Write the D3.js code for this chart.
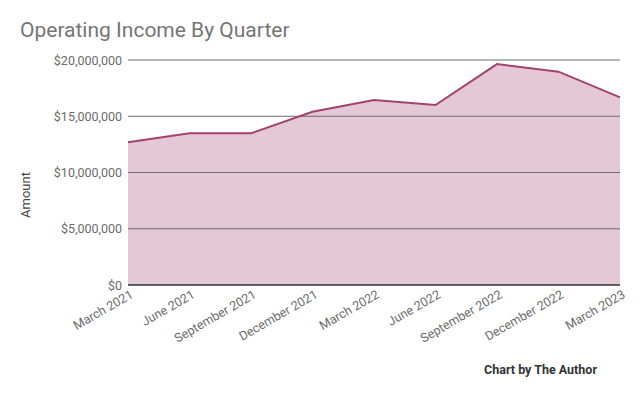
<!DOCTYPE html>
<meta charset="utf-8" />
<style>
  body { margin: 0; background: #fff; }
  text { font-family: Roboto, "Noto Sans", sans-serif; }
</style>
<body>
  <div id="chart"></div>
  <script src="https://cdn.jsdelivr.net/npm/d3@7"></script>
  <script>
    // values
    const quarters = ["March 2021", "June 2021", "September 2021", "December 2021", "March 2022",
      "June 2022", "September 2022", "December 2022", "March 2023"];
    const income = [12680000, 13480000, 13480000, 15400000, 16440000, 16000000, 19640000, 18960000, 16680000];
    const yTicks = [0, 5000000, 10000000, 15000000, 20000000];

    const width = 640, height = 396;
    const plotLeft = 128, plotRight = 620, plotTop = 60, plotBottom = 285;

    const svg = d3.select("#chart").append("svg").attr("width", width).attr("height", height);

    const x = d3.scalePoint().domain(quarters).range([plotLeft, plotRight]);
    const y = d3.scaleLinear().domain([0, 20000000]).range([plotBottom, plotTop]);

    // area + line
    const area = d3.area().x((d, i) => x(quarters[i])).y0(y(0)).y1((d) => y(d));
    const line = d3.line().x((d, i) => x(quarters[i])).y((d) => y(d));

    svg.append("path").datum(income).attr("d", area).attr("fill", "#e4c8d6");

    // gridlines over the fill
    svg.append("g")
      .selectAll("line")
      .data(yTicks.filter((t) => t > 0))
      .enter()
      .append("line")
      .attr("x1", plotLeft)
      .attr("x2", plotRight)
      .attr("y1", (d) => y(d))
      .attr("y2", (d) => y(d))
      .attr("stroke", "#6b6b6b")
      .attr("stroke-width", 1);

    svg.append("line")
      .attr("x1", plotLeft).attr("x2", plotRight)
      .attr("y1", y(0)).attr("y2", y(0))
      .attr("stroke", "#333").attr("stroke-width", 1.5);

    svg.append("path").datum(income).attr("d", line)
      .attr("fill", "none").attr("stroke", "#a3426f").attr("stroke-width", 2);

    // y labels
    svg.append("g")
      .selectAll("text")
      .data(yTicks)
      .enter()
      .append("text")
      .attr("x", plotLeft - 6)
      .attr("y", (d) => y(d) + 4.5)
      .attr("text-anchor", "end")
      .attr("fill", "#6b6b6b")
      .attr("font-size", "12.5px")
      .text((d) => "$" + d3.format(",")(d));

    // x labels
    svg.append("g")
      .selectAll("text")
      .data(quarters)
      .enter()
      .append("text")
      .attr("transform", (d) => "translate(" + (x(d) + 6) + "," + (plotBottom + 12) + ") rotate(-30)")
      .attr("text-anchor", "end")
      .attr("fill", "#6b6b6b")
      .attr("font-size", "12.5px")
      .text((d) => d);

    svg.append("text")
      .attr("x", 20).attr("y", 37)
      .attr("fill", "#757575")
      .attr("font-size", "21px")
      .text("Operating Income By Quarter");

    svg.append("text")
      .attr("transform", "translate(30,195) rotate(-90)")
      .attr("text-anchor", "middle")
      .attr("fill", "#444")
      .attr("font-size", "13px")
      .text("Amount");

    svg.append("text")
      .attr("x", 597).attr("y", 374)
      .attr("text-anchor", "end")
      .attr("fill", "#333")
      .attr("font-size", "12.5px")
      .attr("font-weight", "bold")
      .text("Chart by The Author");
  </script>
</body>
